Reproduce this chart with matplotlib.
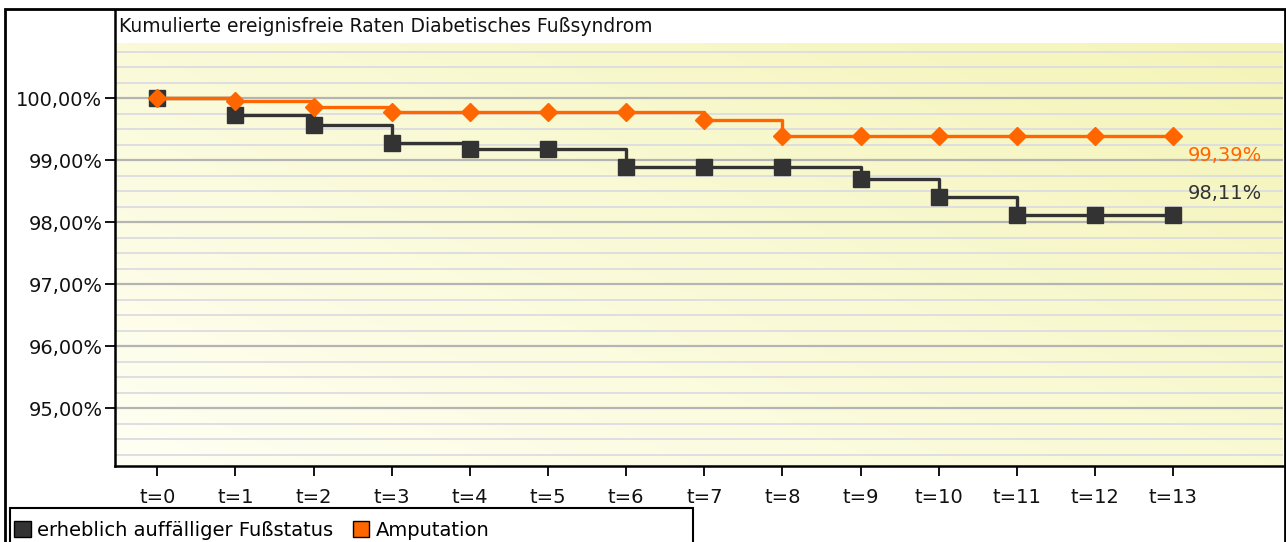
import numpy as np
import matplotlib
matplotlib.use("Agg")
import matplotlib.pyplot as plt
from matplotlib.patches import Rectangle, Patch

# ---- data ----
periods = ["t=0", "t=1", "t=2", "t=3", "t=4", "t=5", "t=6", "t=7", "t=8", "t=9", "t=10", "t=11", "t=12", "t=13"]
foot_status = [100.00, 99.73, 99.57, 99.27, 99.18, 99.18, 98.89, 98.89, 98.89, 98.69, 98.40, 98.11, 98.11, 98.11]
amputation = [100.00, 99.95, 99.85, 99.78, 99.78, 99.78, 99.78, 99.65, 99.39, 99.39, 99.39, 99.39, 99.39, 99.39]
series_names = ["erheblich auffälliger Fußstatus", "Amputation"]
end_labels = ["98,11%", "99,39%"]
yticks = [95, 96, 97, 98, 99, 100]
ytick_labels = ["95,00%", "96,00%", "97,00%", "98,00%", "99,00%", "100,00%"]
title = "Kumulierte ereignisfreie Raten Diabetisches Fußsyndrom"

W, H = 1286, 542
FS = 14
plt.rcParams['font.family'] = ['DejaVu Sans']
fig = plt.figure(figsize=(W / 100, H / 100), dpi=100)
fig.patch.set_facecolor("white")

# axes geometry in pixels
L, R, B, T = 115, 1283, 466, 10
ax = fig.add_axes([L / W, 1 - B / H, (R - L) / W, (B - T) / H])
x = np.arange(len(periods))
ymin = 94.065
ppu = 62.0
ymax_yellow = 100 + 55 / ppu
ymax = 100 + (98 - T) / ppu
xmin = -0.54
xmax = xmin + (R - L) / 78.15
ax.set_xlim(xmin, xmax)
ax.set_ylim(ymin, ymax)
ax.set_facecolor("white")

# gradient background
ny, nx = 100, 200
gy, gx = np.mgrid[0:1:ny * 1j, 0:1:nx * 1j]
t = np.clip(0.55 * gx + 0.45 * gy, 0, 1)  # gy=0 bottom
c0 = np.array([255, 255, 244]) / 255.0
c1 = np.array([244, 244, 184]) / 255.0
img = c0[None, None, :] * (1 - t[..., None]) + c1[None, None, :] * t[..., None]
ax.imshow(img, origin="lower", extent=[xmin, xmax, ymin, ymax_yellow], aspect="auto", zorder=0, interpolation="bilinear")

# grid lines
for v in np.arange(94.25, ymax_yellow, 0.25):
    major = abs(v - round(v)) < 1e-6
    ax.axhline(v, color="#b4b4b4" if major else "#dcdce2", lw=1.6 if major else 1.3, zorder=1)

# series
ax.plot(x, foot_status, drawstyle="steps-post", color="#333333", lw=2.4, zorder=3)
ax.plot(x, foot_status, ls="none", marker="s", ms=11, color="#333333", zorder=4)
ax.plot(x, amputation, drawstyle="steps-post", color="#ff6600", lw=2.4, zorder=5)
ax.plot(x, amputation, ls="none", marker="D", ms=9, color="#ff6600", zorder=6)

ax.annotate(end_labels[1], (x[-1], amputation[-1]), xytext=(15, -20), textcoords="offset pixels",
            color="#ff6600", fontsize=FS, va="center", ha="left", zorder=7)
ax.annotate(end_labels[0], (x[-1], foot_status[-1]), xytext=(15, 22), textcoords="offset pixels",
            color="#333333", fontsize=FS, va="center", ha="left", zorder=7)

ax.set_xticks(x)
ax.set_xticklabels(periods, fontsize=FS)
ax.set_yticks(yticks)
ax.set_yticklabels(ytick_labels, fontsize=FS)
ax.tick_params(axis="both", direction="out", length=7, width=1.3, color="black", labelcolor="#111111")
ax.tick_params(axis="x", pad=9)
ax.tick_params(axis="y", pad=2)
for s in ["top", "right"]:
    ax.spines[s].set_visible(False)
for s in ["left", "bottom"]:
    ax.spines[s].set_linewidth(1.8)
    ax.spines[s].set_color("black")

fig.text(119 / W, 1 - 27 / H, title, fontsize=13.5, va="center", ha="left", color="#111111")

# outer border
fig.add_artist(Rectangle((5 / W, -0.1), (1285 - 5) / W, 1 - 9 / H + 0.1, transform=fig.transFigure,
                         fill=False, edgecolor="black", lw=2, zorder=10))

# legend frame (drawn manually to match reference width)
fig.add_artist(Rectangle((10 / W, -0.05), (693 - 10) / W, 1 - 508 / H + 0.05, transform=fig.transFigure,
                         fill=False, edgecolor="black", lw=1.5, zorder=10))
handles = [Patch(facecolor="#333333", edgecolor="black", lw=1),
           Patch(facecolor="#ff6600", edgecolor="black", lw=1)]
leg = fig.legend(handles, series_names, loc="center left", ncol=2,
                 bbox_to_anchor=(14 / W, 1 - 530 / H),
                 fontsize=FS, frameon=False,
                 handlelength=0.85, handleheight=0.9, handletextpad=0.35, borderpad=0.0,
                 columnspacing=1.0, borderaxespad=0)

fig.savefig("out.png", dpi=100)
